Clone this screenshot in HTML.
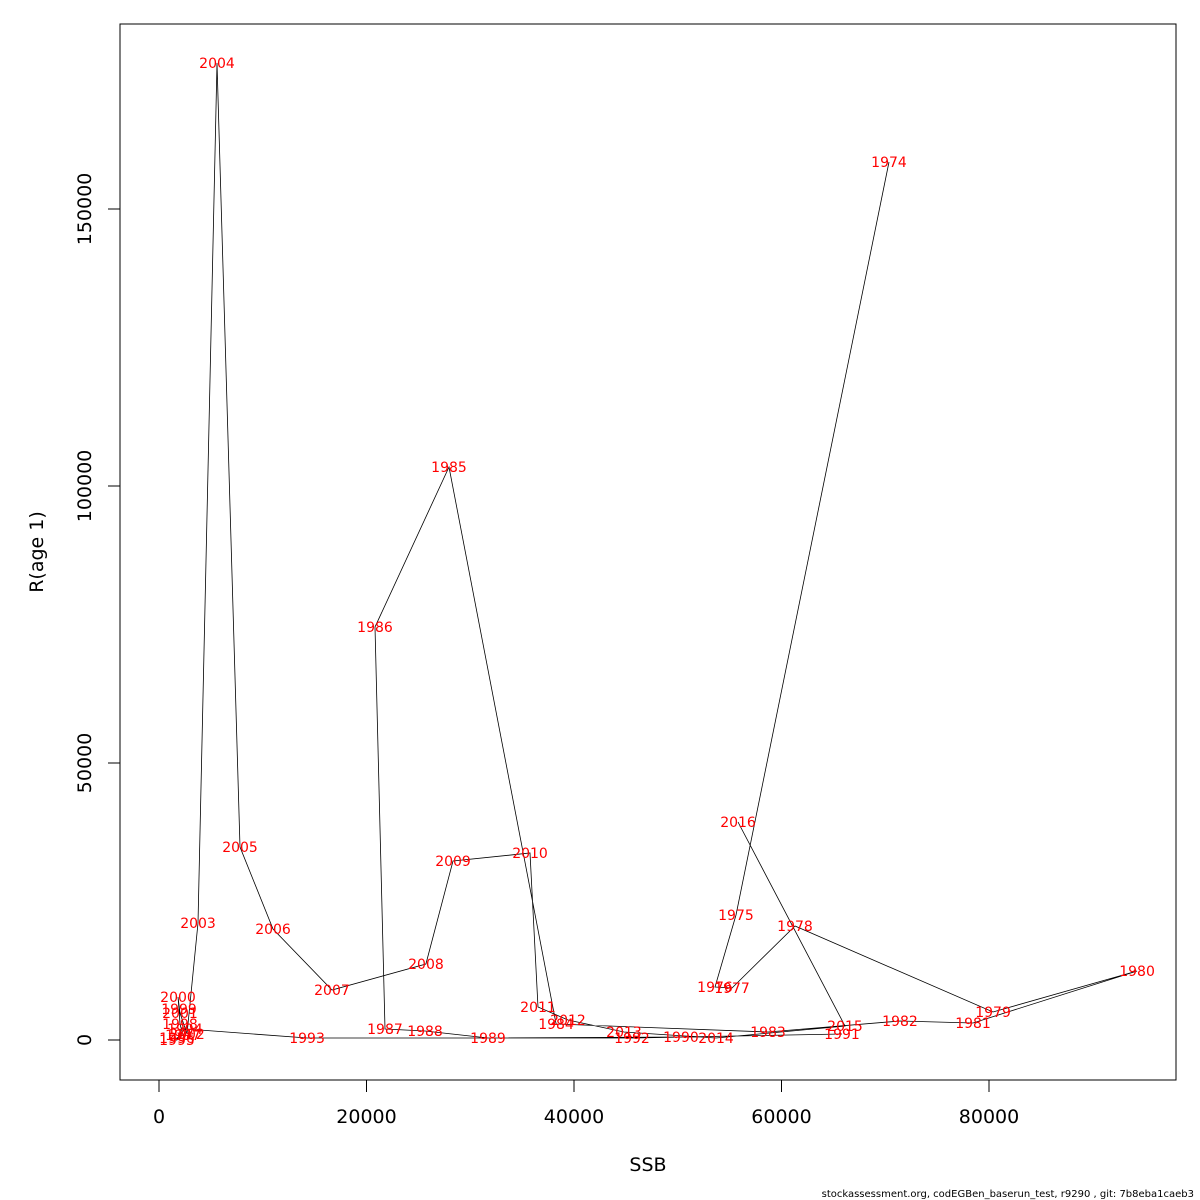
<!DOCTYPE html>
<html><head><meta charset="utf-8"><style>
body{margin:0;background:#fff}
svg{display:block;font-family:"DejaVu Sans","Liberation Sans",sans-serif}
</style></head><body>
<svg id="chart" width="1200" height="1200" viewBox="0 0 1200 1200" xmlns="http://www.w3.org/2000/svg">
<rect x="0" y="0" width="1200" height="1200" fill="#fff"/>
<rect x="120" y="24" width="1056" height="1056" fill="none" stroke="#000" stroke-width="1"/>
<g id="series"></g>
<g id="axes"></g>
<text x="648" y="1171" font-size="19" text-anchor="middle">SSB</text>
<text transform="translate(43,552) rotate(-90)" font-size="19" text-anchor="middle">R(age 1)</text>
<text x="1194" y="1197" font-size="10" text-anchor="end">stockassessment.org, codEGBen_baserun_test, r9290 , git: 7b8eba1caeb3</text>
</svg>
<script>
const years = [1974,1975,1976,1977,1978,1979,1980,1981,1982,1983,1984,1985,1986,1987,1988,1989,1990,1991,1992,1993,1994,1995,1996,1997,1998,1999,2000,2001,2002,2003,2004,2005,2006,2007,2008,2009,2010,2011,2012,2013,2014,2015,2016];
const ssb = [70360,55610,53590,55230,61300,80390,94270,78460,71420,58700,38270,27950,20820,21780,25640,31710,50310,65830,45590,14270,2500,1730,1730,2310,2020,1930,1830,2020,2700,3760,5590,7810,10990,16670,25730,28340,35760,36530,39420,44820,53690,66120,55810];
const rec = [158480,22560,9570,9390,20580,5050,12450,3070,3430,1440,2890,103430,74550,1990,1620,360,540,1080,360,360,2000,0,360,900,2890,5600,7760,4870,1080,21120,176350,34840,20040,9030,13720,32310,33750,5960,3610,1440,360,2530,39350];
const xTicks = [0,20000,40000,60000,80000];
const yTicks = [0,50000,100000,150000];

const NS = "http://www.w3.org/2000/svg";
function xs(v){ return 159 + v * (830/80000); }
function ys(v){ return 1040 - v * (831/150000); }

const series = document.getElementById('series');
const axes = document.getElementById('axes');

let d = '';
for (let i = 0; i < years.length; i++) {
  d += (i ? 'L' : 'M') + xs(ssb[i]).toFixed(1) + ' ' + ys(rec[i]).toFixed(1);
}
const path = document.createElementNS(NS, 'path');
path.setAttribute('d', d);
path.setAttribute('fill', 'none');
path.setAttribute('stroke', '#000');
path.setAttribute('stroke-width', '0.8');


series.appendChild(path);

for (let i = 0; i < years.length; i++) {
  const t = document.createElementNS(NS, 'text');
  t.setAttribute('x', xs(ssb[i]));
  t.setAttribute('y', ys(rec[i]) + 5);
  t.setAttribute('font-size', '14');
  t.setAttribute('fill', '#ff0000');
  t.setAttribute('text-anchor', 'middle');
  t.textContent = years[i];
  
  
  series.appendChild(t);
}

const xl = document.createElementNS(NS, 'line');
xl.setAttribute('x1', xs(xTicks[0])); xl.setAttribute('x2', xs(xTicks[xTicks.length-1]));
xl.setAttribute('y1', 1080); xl.setAttribute('y2', 1080); xl.setAttribute('stroke', '#000');


axes.appendChild(xl);
for (const v of xTicks) {
  const tk = document.createElementNS(NS, 'line');
  tk.setAttribute('x1', xs(v)); tk.setAttribute('x2', xs(v));
  tk.setAttribute('y1', 1080); tk.setAttribute('y2', 1092); tk.setAttribute('stroke', '#000');
  
  
  axes.appendChild(tk);
  const lb = document.createElementNS(NS, 'text');
  lb.setAttribute('x', xs(v)); lb.setAttribute('y', 1123);
  lb.setAttribute('font-size', '19'); lb.setAttribute('text-anchor', 'middle');
  lb.textContent = v;
  
  
  axes.appendChild(lb);
}

const yl = document.createElementNS(NS, 'line');
yl.setAttribute('x1', 120); yl.setAttribute('x2', 120);
yl.setAttribute('y1', ys(yTicks[0])); yl.setAttribute('y2', ys(yTicks[yTicks.length-1])); yl.setAttribute('stroke', '#000');


axes.appendChild(yl);
for (const v of yTicks) {
  const tk = document.createElementNS(NS, 'line');
  tk.setAttribute('x1', 108); tk.setAttribute('x2', 120);
  tk.setAttribute('y1', ys(v)); tk.setAttribute('y2', ys(v)); tk.setAttribute('stroke', '#000');
  
  
  axes.appendChild(tk);
  const lb = document.createElementNS(NS, 'text');
  lb.setAttribute('transform', 'translate(91,' + ys(v) + ') rotate(-90)');
  lb.setAttribute('font-size', '19'); lb.setAttribute('text-anchor', 'middle');
  lb.textContent = v;
  
  
  axes.appendChild(lb);
}
</script>
</body></html>
